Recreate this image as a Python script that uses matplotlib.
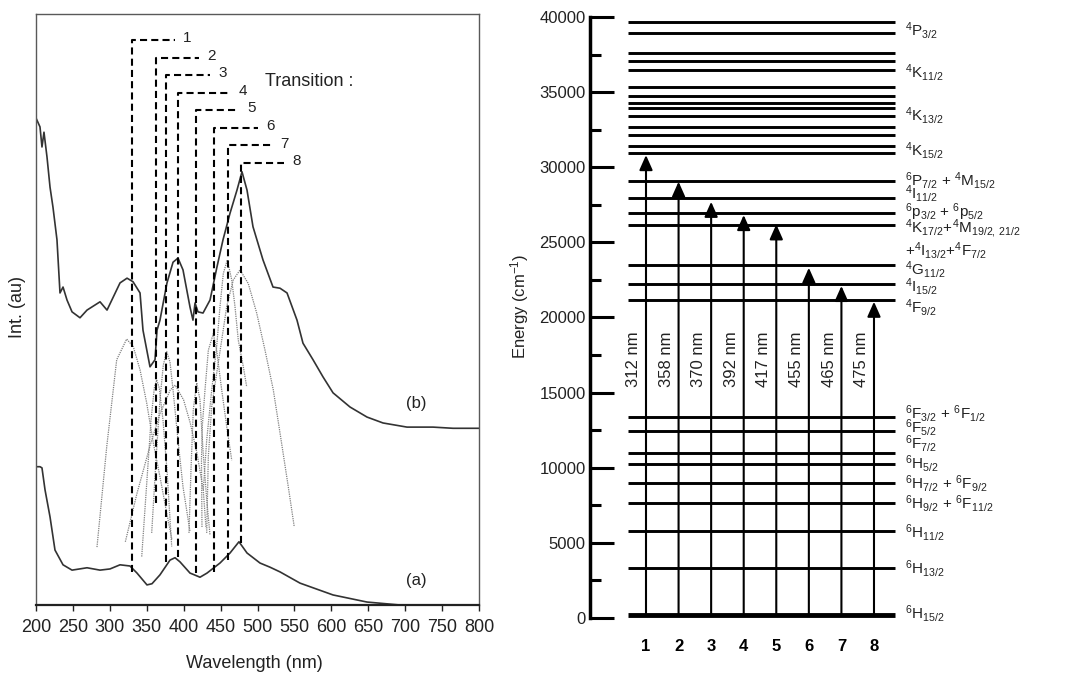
import matplotlib
matplotlib.use("Agg")
import matplotlib.pyplot as plt
import numpy as np

plt.rcParams['font.family'] = ['Liberation Sans', 'DejaVu Sans']
plt.rcParams['mathtext.fontset'] = 'custom'
plt.rcParams['mathtext.rm'] = 'Liberation Sans'
plt.rcParams['mathtext.default'] = 'regular'

# ---- left panel: excitation spectra ----
wl_b = [200, 205.4, 208.1, 210.8, 214.9, 219.0, 223.0, 228.4, 232.5, 236.6, 242.0, 248.8,
        259.6, 269.1, 286.7, 296.2, 313.8, 323.3, 331.4, 340.9, 344.9, 354.4, 361.2, 363.9,
        367.9, 377.4, 385.6, 392.3, 399.1, 408.6, 412.6, 415.4, 419.4, 426.2, 435.7, 445.1,
        453.3, 462.8, 472.2, 479.0, 485.8, 493.9, 507.4, 521.0, 530.5, 540.0, 553.5, 561.6,
        575.2, 588.7, 602.3, 625.3, 648.3, 670.0, 702.5, 737.7, 764.8, 800]
int_b = [82.4, 80.9, 77.5, 80.0, 75.8, 70.7, 67.3, 61.8, 52.8, 53.8, 51.6, 49.6,
         48.6, 49.9, 51.3, 49.9, 54.5, 55.3, 54.7, 52.8, 46.5, 40.3, 41.5, 46.5,
         48.2, 54.5, 58.0, 58.7, 56.7, 50.4, 48.2, 51.1, 49.6, 49.4, 51.6, 57.2,
         61.8, 66.3, 70.2, 73.3, 70.2, 64.0, 58.4, 53.8, 53.6, 52.8, 48.2, 44.3,
         41.5, 38.6, 35.9, 33.5, 31.8, 30.8, 30.1, 30.1, 29.9, 29.9]

wl_a = [200, 205.4, 208.1, 212.2, 219.0, 225.7, 236.6, 248.8, 269.1, 286.7, 300.2, 313.8,
        327.3, 336.8, 350.3, 357.1, 367.9, 381.5, 388.3, 395.0, 408.6, 412.6, 422.1, 431.6,
        449.2, 462.8, 474.9, 485.8, 503.4, 516.9, 530.5, 557.6, 602.3, 648.3, 693.0, 764.8]
int_a = [23.4, 23.4, 23.2, 19.5, 14.9, 9.3, 6.8, 5.9, 6.3, 5.9, 6.1, 6.8,
         6.6, 5.4, 3.4, 3.6, 5.1, 7.6, 8.0, 7.3, 5.4, 5.2, 4.7, 5.4,
         7.1, 8.8, 10.7, 8.8, 7.1, 6.4, 5.6, 3.7, 1.7, 0.5, 0.0, 0.0]

# fitted components (grey dotted)
comp_wl = [
    [282.6, 295.8, 309.3, 322.8, 331.8, 340.9, 349.9, 358.9, 367.9, 377.0, 384.2],
    [343.2, 350.3, 355.8, 360.2, 363.5, 367.0, 372.0, 377.4, 383.8],
    [356.7, 362.5, 367.9, 372.4, 377.0, 381.5, 386.0, 392.3, 399.1, 408.6],
    [321.0, 336.8, 354.8, 368.3, 381.9, 388.6, 399.9, 408.9, 418.0, 426.5, 430.3],
    [407.2, 409.9, 413.0, 417.7, 422.1, 426.2, 431.2, 435.7],
    [424.8, 424.1, 425.2, 428.9, 433.4, 440.1, 444.7, 451.5, 458.3, 465.1],
    [426.6, 431.2, 438.0, 444.7, 449.2, 453.7, 459.1, 465.1, 469.5, 474.0, 480.8, 485.4],
    [431.2, 433.4, 438.0, 444.7, 451.5, 458.3, 467.2, 476.3, 487.5, 498.9, 510.2, 521.4,
     530.5, 541.7, 549.8],
]
comp_int = [
    [9.8, 26.8, 41.5, 45.0, 43.7, 39.8, 34.2, 27.4, 21.7, 15.6, 11.0],
    [8.2, 21.2, 31.3, 36.7, 38.1, 36.7, 31.3, 22.8, 9.9],
    [12.2, 24.5, 34.7, 40.6, 42.9, 41.1, 35.9, 27.9, 20.0, 12.4],
    [10.7, 18.9, 27.1, 32.5, 36.4, 37.2, 34.7, 30.8, 25.7, 19.5, 13.0],
    [12.2, 22.8, 33.0, 37.6, 34.7, 26.2, 17.8, 11.8],
    [13.2, 24.5, 30.2, 36.4, 43.1, 45.9, 43.1, 36.4, 30.2, 24.5],
    [19.5, 27.9, 36.4, 43.7, 50.5, 56.1, 58.4, 55.0, 50.5, 44.8, 40.3, 36.9],
    [12.2, 25.1, 33.6, 39.2, 44.8, 50.5, 55.0, 56.7, 54.4, 49.4, 43.1, 36.4,
     29.1, 20.0, 13.2],
]

# dashed transition markers
trans_wl = [330.0, 362.5, 376.1, 392.3, 416.7, 441.1, 460.0, 477.7]
trans_bottom = [5.6, 17.3, 7.3, 8.1, 5.4, 5.6, 7.6, 10.5]
trans_end = [388.3, 420.8, 435.7, 462.8, 475.0, 500.7, 519.6, 535.9]
trans_labels = ['1', '2', '3', '4', '5', '6', '7', '8']

# ---- right panel: energy levels ----
levels = [40150, 39640, 38910, 37580, 37070, 36470, 35320, 34740, 34250, 33920, 33410,
          32660, 32150, 31410, 30930, 29080, 27970, 26930, 26160, 23490, 22210, 21170,
          13400, 12450, 10960, 10230, 8960, 7630, 5810, 3350]
ground = 200
level_label_E = [39130, 36340, 33480, 31150, 29150, 28290, 27090, 26020, 24490, 23230,
                 22100, 20700, 13640, 12710, 11650, 10320, 8990, 7650, 5720, 3330, 330]
level_label_txt = [
    r'$^4$P$_{3/2}$', r'$^4$K$_{11/2}$', r'$^4$K$_{13/2}$', r'$^4$K$_{15/2}$',
    r'$^6$P$_{7/2}$ + $^4$M$_{15/2}$', r'$^4$I$_{11/2}$', r'$^6$p$_{3/2}$ + $^6$p$_{5/2}$',
    r'$^4$K$_{17/2}$+$^4$M$_{19/2,\,21/2}$', r'+$^4$I$_{13/2}$+$^4$F$_{7/2}$',
    r'$^4$G$_{11/2}$', r'$^4$I$_{15/2}$', r'$^4$F$_{9/2}$',
    r'$^6$F$_{3/2}$ + $^6$F$_{1/2}$', r'$^6$F$_{5/2}$', r'$^6$F$_{7/2}$', r'$^6$H$_{5/2}$',
    r'$^6$H$_{7/2}$ + $^6$F$_{9/2}$', r'$^6$H$_{9/2}$ + $^6$F$_{11/2}$', r'$^6$H$_{11/2}$',
    r'$^6$H$_{13/2}$', r'$^6$H$_{15/2}$']
arrow_idx = [1, 2, 3, 4, 5, 6, 7, 8]
arrow_top = [30810, 29040, 27700, 26820, 26200, 23310, 22100, 21050]
arrow_nm = ['312 nm', '358 nm', '370 nm', '392 nm', '417 nm', '455 nm', '465 nm', '475 nm']

fig = plt.figure(figsize=(10.86, 6.73), dpi=100)
W, H = 1086, 673

# left axes
ax = fig.add_axes([36 / W, 1 - 605 / H, 443 / W, 591 / H])
ax.set_xlim(200, 800)
ax.set_ylim(0, 100)
ax.plot(wl_b, int_b, color='#333333', lw=1.2)
ax.plot(wl_a, int_a, color='#333333', lw=1.2)
for cw, ci in zip(comp_wl, comp_int):
    ax.plot(cw, ci, color='0.5', lw=0.9, ls=(0, (1, 0.8)))

for k, (x, b, e, lab) in enumerate(zip(trans_wl, trans_bottom, trans_end, trans_labels)):
    top = 95.6 - k * 2.97
    ax.plot([x, x, e], [b, top, top], color='k', lw=1.5, ls=(0, (3.4, 2.0)))
    ax.text(e + 17, top + 0.3, lab, fontsize=11, ha='center', va='center', color='#222222')

ax.text(510, 88.5, 'Transition :', fontsize=13, ha='left', va='center', color='#222222')
ax.text(715.5, 34.1, '(b)', fontsize=12, ha='center', va='center', color='#222222')
ax.text(715.5, 4.2, '(a)', fontsize=12, ha='center', va='center', color='#222222')

ax.set_xticks(np.arange(200, 801, 50))
ax.set_yticks([])
ax.tick_params(axis='x', direction='out', length=4, width=1, labelsize=13, colors='#222222', pad=6)
for s in ['left', 'top', 'right']:
    ax.spines[s].set_linewidth(1.0)
    ax.spines[s].set_color('0.35')
ax.spines['bottom'].set_linewidth(1.6)
ax.spines['bottom'].set_color('#222222')

fig.text(18 / W, 1 - 307 / H, 'Int. (au)', rotation=90, fontsize=13, ha='center', va='center', color='#222222')
fig.text(254 / W, 1 - 663 / H, 'Wavelength (nm)', fontsize=13, ha='center', va='center', color='#222222')

# right axes
px0 = 646.0
dpx = 32.57
left_px = 590
ax2 = fig.add_axes([left_px / W, 1 - 618 / H, (W - left_px) / W, 601 / H])
ax2.set_ylim(0, 40000)
ax2.set_xlim(1 + (left_px - px0) / dpx, 1 + (W - px0) / dpx)
ax2.patch.set_alpha(0)
for s in ['top', 'right', 'bottom']:
    ax2.spines[s].set_visible(False)
ax2.spines['left'].set_linewidth(2.5)
ax2.spines['left'].set_bounds(0, 40000)
ax2.set_xticks([])
ax2.set_yticks(np.arange(0, 40001, 5000))
ax2.set_yticks(np.arange(2500, 40000, 5000), minor=True)
ax2.tick_params(axis='y', which='major', direction='in', length=17, width=2.2, labelsize=12, pad=3,
                colors='k', labelcolor='#222222')
ax2.tick_params(axis='y', which='minor', direction='in', length=8, width=2.2)

x_lo = 1 + (628 - px0) / dpx
x_hi = 1 + (895 - px0) / dpx
ax2.hlines(levels, x_lo, x_hi, color='k', lw=2.1)
ax2.hlines([ground], x_lo, x_hi, color='k', lw=3.5)

for i, top, lab in zip(arrow_idx, arrow_top, arrow_nm):
    ax2.annotate('', xy=(i, top), xytext=(i, ground),
                 arrowprops=dict(arrowstyle='-|>,head_length=0.9,head_width=0.4',
                                 color='k', lw=1.5, shrinkA=0, shrinkB=0))
    ax2.text(i - 0.38, 15400, lab, rotation=90, fontsize=12, ha='center', va='bottom', color='#222222')
    ax2.text(i, -1864, str(i), fontsize=12, fontweight='bold', ha='center', va='center', clip_on=False)

x_lab = 1 + (905 - px0) / dpx
for e, t in zip(level_label_E, level_label_txt):
    ax2.text(x_lab, e - 380, t, fontsize=11, ha='left', va='baseline', color='#222222', clip_on=False)

fig.text(520 / W, 1 - 306 / H, r'Energy (cm$^{-1}$)', rotation=90, fontsize=12, ha='center', va='center',
         color='#222222')

fig.savefig('out.png', dpi=100)
